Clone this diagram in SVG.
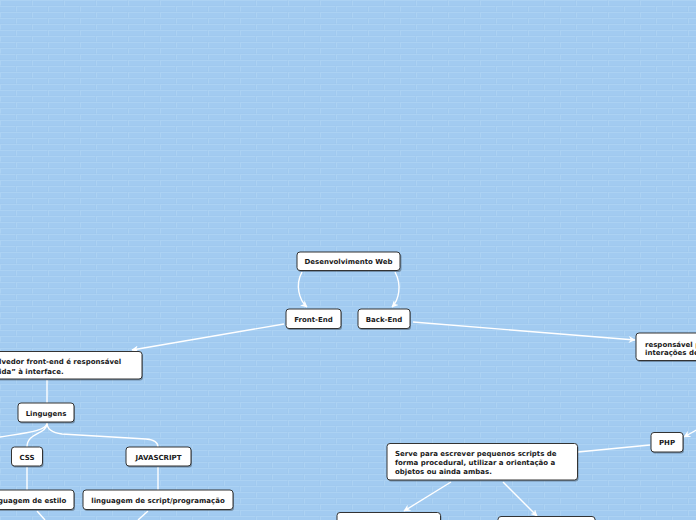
<svg xmlns="http://www.w3.org/2000/svg" width="696" height="520" viewBox="0 0 696 520">
<defs>
<pattern id="brick" width="32" height="12" patternUnits="userSpaceOnUse">
<rect width="32" height="12" fill="#a2cbf1"/>
<path d="M0,0.5H32M0,6.5H32M0.5,0V6M16.5,6V12" stroke="#acd2f3" stroke-width="1" fill="none"/>
<path d="M0,5.5H32M0,11.5H32M31.5,0V6M15.5,6V12" stroke="#9cc6ec" stroke-width="0.6" fill="none" opacity="0.5"/>
</pattern>
<marker id="arr" viewBox="0 0 10 10" refX="9" refY="5" markerWidth="7" markerHeight="7" markerUnits="userSpaceOnUse" orient="auto">
<path d="M0,0L10,5L0,10L3,5Z" fill="#ffffff"/>
</marker>
</defs>
<style>
.n rect.b{fill:#ffffff;stroke:#333333;stroke-width:1}
.n rect.s{fill:#000000;opacity:0.3}
.n text{font-family:"DejaVu Sans",Verdana,sans-serif;font-weight:bold;font-size:7px;fill:#1a1a1a}
.c path{fill:none;stroke:#ffffff;stroke-width:1.4}
</style>
<rect width="696" height="520" fill="url(#brick)"/>
<g class="c">
<path d="M302,272 C295,285 299,300 307,307" marker-end="url(#arr)"/>
<path d="M395,272 C402,285 399,300 392,307" marker-end="url(#arr)"/>
<path d="M284,324 L132,350" marker-end="url(#arr)"/>
<path d="M413,322 L635,340" marker-end="url(#arr)"/>
<path d="M700,428 L684,437" marker-end="url(#arr)"/>
<path d="M650,445 L578,452"/>
<path d="M451,482 L404,511" marker-end="url(#arr)"/>
<path d="M503,482 L537,516" marker-end="url(#arr)"/>
<path d="M47,380 L47,403"/>
<path d="M47,423 C47,431 25,433 0,437"/>
<path d="M47,423 C47,435 27,432 27,447"/>
<path d="M47,423 Q47,432 62,434 L146,439 Q158,440 158,447"/>
<path d="M27,467 L27,490"/>
<path d="M158,467 L158,490"/>
<path d="M37,511 L45,520"/>
<path d="M148,511 L138,520"/>
</g>
<g class="n" id="n-web">
<rect class="s" x="298" y="253.5" width="103.5" height="18.5" rx="3"/>
<rect class="b" x="297" y="252" width="103" height="18.5" rx="3"/>
<text x="348.5" y="264" text-anchor="middle">Desenvolvimento Web</text>
</g>
<g class="n" id="n-front">
<rect class="s" x="287" y="310.5" width="55" height="19.5" rx="3"/>
<rect class="b" x="286" y="309" width="55" height="19.5" rx="3"/>
<text x="313.5" y="321.5" text-anchor="middle">Front-End</text>
</g>
<g class="n" id="n-back">
<rect class="s" x="359" y="310.5" width="52" height="19.5" rx="3"/>
<rect class="b" x="358" y="309" width="52" height="19.5" rx="3"/>
<text x="384" y="321.5" text-anchor="middle">Back-End</text>
</g>
<g class="n" id="n-frontdesc">
<rect class="s" x="-9" y="353" width="152" height="27.5" rx="3"/>
<rect class="b" x="-10" y="351.5" width="152" height="27.5" rx="3"/>
<text x="-1" y="364">lvedor front-end é responsável</text>
<text x="-1" y="373.5">ida” à interface.</text>
</g>
<g class="n" id="n-backdesc">
<rect class="s" x="637" y="334.5" width="80" height="27.5" rx="3"/>
<rect class="b" x="636" y="333" width="80" height="27.5" rx="3"/>
<text x="645" y="346.5">responsável p</text>
<text x="645" y="355">interações de</text>
</g>
<g class="n" id="n-ling">
<rect class="s" x="19" y="404.5" width="56" height="19" rx="3"/>
<rect class="b" x="18" y="403" width="56" height="19" rx="3"/>
<text x="46" y="415.5" text-anchor="middle">Lingugens</text>
</g>
<g class="n" id="n-css">
<rect class="s" x="12.5" y="448.5" width="31" height="19" rx="3"/>
<rect class="b" x="11.5" y="447" width="31" height="19" rx="3"/>
<text x="27" y="459.5" text-anchor="middle">CSS</text>
</g>
<g class="n" id="n-js">
<rect class="s" x="127" y="448.5" width="65" height="19" rx="3"/>
<rect class="b" x="126" y="447" width="65" height="19" rx="3"/>
<text x="158.5" y="459.5" text-anchor="middle">JAVASCRIPT</text>
</g>
<g class="n" id="n-estilo">
<rect class="s" x="-9" y="491.5" width="84" height="19.5" rx="3"/>
<rect class="b" x="-10" y="490" width="84" height="19.5" rx="3"/>
<text x="-2" y="502.5">guagem de estilo</text>
</g>
<g class="n" id="n-script">
<rect class="s" x="84" y="491.5" width="150" height="19.5" rx="3"/>
<rect class="b" x="83" y="490" width="150" height="19.5" rx="3"/>
<text x="158" y="502.5" text-anchor="middle">linguagem de script/programação</text>
</g>
<g class="n" id="n-php">
<rect class="s" x="652" y="434" width="32" height="19.5" rx="3"/>
<rect class="b" x="651" y="432.5" width="32" height="19.5" rx="3"/>
<text x="667" y="445" text-anchor="middle">PHP</text>
</g>
<g class="n" id="n-serve">
<rect class="s" x="388" y="445" width="190.5" height="36.5" rx="3"/>
<rect class="b" x="387" y="443.5" width="190.5" height="36.5" rx="3"/>
<text x="395" y="456">Serve para escrever pequenos scripts de</text>
<text x="395" y="465">forma procedural, utilizar a orientação a</text>
<text x="395" y="474">objetos ou ainda ambas.</text>
</g>
<g class="n" id="n-php1">
<rect class="s" x="338" y="514" width="103.5" height="20" rx="3"/>
<rect class="b" x="337" y="512.5" width="103.5" height="20" rx="3"/>
</g>
<g class="n" id="n-php2">
<rect class="s" x="499" y="518" width="97" height="20" rx="3"/>
<rect class="b" x="498" y="516.5" width="97" height="20" rx="3"/>
</g>
</svg>
